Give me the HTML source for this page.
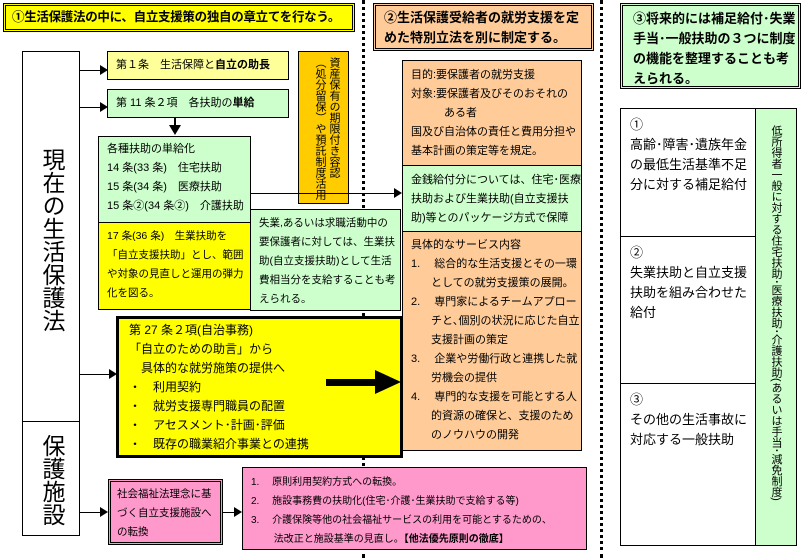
<!DOCTYPE html>
<html><head><meta charset="utf-8"><style>
body{margin:0;width:805px;height:558px;background:#fff;position:relative;overflow:hidden;font-family:"Liberation Sans","Noto Sans CJK JP",sans-serif;color:#000}
.b{position:absolute;box-sizing:border-box;border:1px solid #000;font-size:11px;line-height:19px}
.t{font-weight:bold}
.v{writing-mode:vertical-rl}
.dot{position:absolute;top:0;width:0;height:558px;border-left:3px dotted #000}
.ln{position:absolute;height:1px;background:#000}
.ah{position:absolute;width:0;height:0;border-top:5px solid transparent;border-bottom:5px solid transparent;border-left:8px solid #000}
</style></head><body>
<div class="dot" style="left:362px"></div>
<div class="dot" style="left:600px"></div>

<div class="b t" style="left:3px;top:3px;width:352px;height:29px;background:#ffff00;border:3px double #000;font-size:12.5px;line-height:23px;padding-left:6px;white-space:nowrap;letter-spacing:-0.3px">①生活保護法の中に、自立支援策の独自の章立てを行なう。</div>
<div class="b t" style="left:373px;top:3px;width:221px;height:48px;background:#ffcc99;border:3px double #000;font-size:13px;line-height:20px;padding:2px 0 0 8px">②生活保護受給者の就労支援を定めた特別立法を別に制定する。</div>
<div class="b t" style="left:620px;top:3px;width:181px;height:86px;background:#ccffcc;border:3px double #000;font-size:13px;line-height:20px;padding:3px 0 0 10px">③将来的には補足給付･失業手当･一般扶助の３つに制度の機能を整理することも考えられる。</div>

<div class="b" style="left:22px;top:51px;width:58px;height:371px;font-size:23px;line-height:26px"><div class="v" style="position:absolute;left:16px;top:96px;height:250px">現在の生活保護法</div></div>
<div class="b" style="left:22px;top:421px;width:58px;height:115px;font-size:23px;line-height:26px"><div class="v" style="position:absolute;left:16px;top:12px;height:100px">保護施設</div></div>

<div class="ln" style="left:80px;top:70px;width:20px"></div><div class="ah" style="left:100px;top:65px"></div>
<div class="ln" style="left:80px;top:107px;width:20px"></div><div class="ah" style="left:100px;top:102px"></div>
<div class="ln" style="left:80px;top:374px;width:30px"></div><div class="ah" style="left:109px;top:369px"></div>

<div class="b" style="left:107px;top:51px;width:182px;height:29px;background:#ffff99;line-height:27px;padding-left:8px">第１条　生活保障と<b>自立の助長</b></div>
<div class="b" style="left:107px;top:89px;width:182px;height:29px;background:#ccffcc;line-height:27px;padding-left:8px">第 11 条２項　各扶助の<b>単給</b></div>
<div class="ln" style="left:174px;top:118px;width:2px;height:8px"></div>
<div style="position:absolute;left:169px;top:125px;border-left:6px solid transparent;border-right:6px solid transparent;border-top:10px solid #000"></div>

<div class="b" style="left:98px;top:136px;width:153px;height:87px;background:#ccffcc;padding:3px 0 0 8px">各種扶助の単給化<br>14 条(33 条)　住宅扶助<br>15 条(34 条)　医療扶助<br>15 条②(34 条②)　介護扶助</div>
<div class="b" style="left:98px;top:222px;width:153px;height:88px;background:#ffff00;font-size:10.5px;padding:4px 4px 0 8px">17 条(36 条)　生業扶助を「自立支援扶助」とし、範囲や対象の見直しと運用の弾力化を図る。</div>

<div class="b" style="left:298px;top:51px;width:51px;height:153px;background:#ffcc00;font-size:11px;line-height:14px"><div class="v" style="position:absolute;right:7px;top:5px;height:146px;white-space:nowrap">資産保有の期限付き容認<br>（処分留保）や預託制度活用</div></div>
<div class="ln" style="left:251px;top:193px;width:143px"></div><div class="ah" style="left:394px;top:188px"></div>

<div class="b" style="left:250px;top:209px;width:151px;height:102px;background:#ccffcc;font-size:10.5px;padding:4px 3px 0 8px">失業,あるいは求職活動中の要保護者に対しては、生業扶助(自立支援扶助)として生活費相当分を支給することも考えられる。</div>

<div class="b" style="left:402px;top:60px;width:180px;height:106px;background:#ffcc99;padding:5px 0 0 8px">目的:要保護者の就労支援<br>対象:要保護者及びそのおそれの<br>　　　ある者<br>国及び自治体の責任と費用分担や基本計画の策定等を規定。</div>
<div class="b" style="left:402px;top:165px;width:180px;height:67px;background:#ccffcc;padding:5px 0 0 8px">金銭給付分については、住宅･医療扶助および生業扶助(自立支援扶助)等とのパッケージ方式で保障</div>
<div class="b" style="left:402px;top:231px;width:180px;height:220px;background:#ffcc99;padding:4px 0 0 8px">具体的なサービス内容
<div style="padding-left:20px;text-indent:-20px">1.　 総合的な生活支援とその一環としての就労支援策の展開。</div>
<div style="padding-left:20px;text-indent:-20px">2.　 専門家によるチームアプローチと､個別の状況に応じた自立支援計画の策定</div>
<div style="padding-left:20px;text-indent:-20px">3.　 企業や労働行政と連携した就労機会の提供</div>
<div style="padding-left:20px;text-indent:-20px">4.　 専門的な支援を可能とする人的資源の確保と、支援のためのノウハウの開発</div></div>

<div class="b" style="left:116px;top:316px;width:287px;height:142px;background:#ffff00;border:3px solid #000;font-size:12px;line-height:19px;padding:2px 0 0 10px">第 27 条２項(自治事務)<br>「自立のための助言」から<br>　具体的な就労施策の提供へ<br>・　利用契約<br>・　就労支援専門職員の配置<br>・　アセスメント･計画･評価<br>・　既存の職業紹介事業との連携</div>
<div style="position:absolute;left:326px;top:379px;width:50px;height:7px;background:#000"></div>
<div style="position:absolute;left:375px;top:370px;border-top:12px solid transparent;border-bottom:12px solid transparent;border-left:26px solid #000"></div>

<div class="ln" style="left:80px;top:512px;width:21px"></div><div class="ah" style="left:100px;top:507px"></div>
<div class="b" style="left:108px;top:479px;width:115px;height:66px;background:#ff99cc;border:3px double #000;font-size:10.5px;padding:3px 2px 0 6px">社会福祉法理念に基づく自立支援施設への転換</div>
<div class="ln" style="left:223px;top:512px;width:12px"></div><div class="ah" style="left:234px;top:507px"></div>
<div class="b" style="left:242px;top:467px;width:345px;height:83px;background:#ff99cc;font-size:10px;line-height:19px;padding:5px 0 0 8px">1.　 原則利用契約方式への転換。<br>2.　 施設事務費の扶助化(住宅･介護･生業扶助で支給する等)<br>3.　 介護保険等他の社会福祉サービスの利用を可能とするための、<br>　　 法改正と施設基準の見直し。<b>【他法優先原則の徹底】</b></div>

<div class="b" style="left:620px;top:108px;width:136px;height:438px"></div>
<div class="b" style="left:620px;top:108px;width:136px;height:129px;font-size:13px;line-height:20px;padding:6px 0 0 9px">①<br>高齢･障害･遺族年金の最低生活基準不足分に対する補足給付</div>
<div class="b" style="left:620px;top:236px;width:136px;height:148px;font-size:13px;line-height:20px;padding:6px 0 0 9px">②<br>失業扶助と自立支援扶助を組み合わせた給付</div>
<div class="b" style="left:620px;top:383px;width:136px;height:163px;font-size:13px;line-height:20px;padding:6px 0 0 9px">③<br>その他の生活事故に対応する一般扶助</div>
<div class="b" style="left:755px;top:108px;width:42px;height:438px;background:#ccffcc;font-size:11px;line-height:14px"><div class="v" style="position:absolute;left:13px;top:16px;height:415px;white-space:nowrap">低所得者一般に対する住宅扶助･医療扶助･介護扶助(あるいは手当･減免制度)</div></div>
</body></html>
